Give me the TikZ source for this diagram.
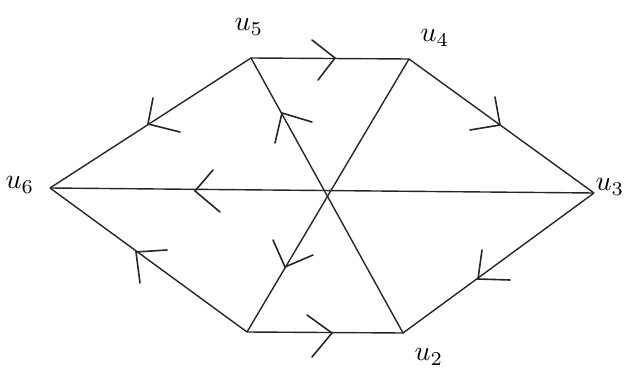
\documentclass[tikz,border=0pt]{standalone}
\begin{document}
\begin{tikzpicture}[x=1pt,y=-1pt,
  edge/.style={line width=1.4pt, draw=black!85},
  chev/.style={line width=1.6pt, draw=black!85, line cap=round, line join=miter},
  lab/.style={scale=2.8, inner sep=0pt}]
\useasboundingbox (0,0) rectangle (626,374);
% vertices
\coordinate (u5) at (251,58);
\coordinate (u4) at (409,59);
\coordinate (u3) at (594,193);
\coordinate (u2) at (403,333);
\coordinate (u1) at (247,332);
\coordinate (u6) at (50,188);
% labels
\node[lab] (l5) at (249,27) {$u_5$};
\node[lab] (l4) at (435,38) {$u_4$};
\node[lab] (l6) at (20,185) {$u_6$};
\node[lab] (l3) at (610,187) {$u_3$};
\node[lab] (l2) at (429,357) {$u_2$};
% edges
\draw[edge] (u5) -- (u4);
\draw[edge] (u4) -- (u3);
\draw[edge] (u3) -- (u2);
\draw[edge] (u2) -- (u1);
\draw[edge] (u1) -- (u6);
\draw[edge] (u6) -- (u5);
\draw[edge] (u6) -- (u3);
\draw[edge] (u5) -- (u2);
\draw[edge] (u4) -- (u1);
% arrowheads (open chevrons)
\draw[chev] (312,40) -- (335,58) -- (318,80);
\draw[chev] (495,97) -- (500,125) -- (470,130);
\draw[chev] (482,250) -- (478,279) -- (510,280);
\draw[chev] (307,315) -- (332,333) -- (312,357);
\draw[chev] (167,250) -- (136,252) -- (140,283);
\draw[chev] (153,98) -- (148,124) -- (180,132);
\draw[chev] (213,170) -- (195,191) -- (220,212);
\draw[chev] (312,122) -- (282,113) -- (275,143);
\draw[chev] (273,240) -- (285,267) -- (313,255);
\end{tikzpicture}
\end{document}
